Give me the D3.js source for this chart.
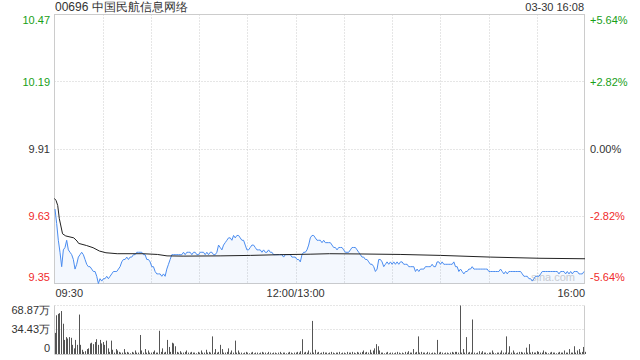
<!DOCTYPE html>
<html><head><meta charset="utf-8">
<script src="https://cdn.jsdelivr.net/npm/d3@7"></script>
<style>body{margin:0;background:#fff}svg{display:block;font-family:Arial,"Liberation Sans",sans-serif}</style>
</head><body><svg id="c" width="640" height="360"></svg>
<script>
const title = "00696 中国民航信息网络";
const stamp = "03-30 16:08";
const prevClose = 9.91;
const priceTicks = [10.47, 10.19, 9.91, 9.63, 9.35];
const pctTicks = ["+5.64%", "+2.82%", "0.00%", "-2.82%", "-5.64%"];
const timeTicks = ["09:30", "12:00/13:00", "16:00"];
const volTicks = [68.87, 34.43, 0];
const volTickLabels = ["68.87万", "34.43万", "0"];

// price line, sampled evenly from 09:30 to 16:00
const prices = [
9.66,9.60,9.53,9.48,9.42,9.49,9.50,9.53,9.49,9.48,
9.47,9.45,9.41,9.43,9.46,9.47,9.48,9.47,9.45,9.43,
9.42,9.42,9.41,9.40,9.40,9.38,9.35,9.37,9.36,9.37,
9.37,9.38,9.37,9.38,9.39,9.40,9.40,9.40,9.41,9.42,
9.44,9.45,9.45,9.46,9.45,9.46,9.46,9.47,9.47,9.48,
9.48,9.48,9.48,9.47,9.47,9.45,9.45,9.44,9.42,9.42,
9.40,9.39,9.39,9.39,9.38,9.39,9.38,9.41,9.43,9.45,
9.47,9.47,9.47,9.47,9.47,9.47,9.47,9.48,9.47,9.48,
9.48,
9.48,9.47,9.48,9.48,9.47,9.47,9.48,9.48,9.48,9.47,
9.48,9.47,9.48,9.48,9.47,9.47,9.48,9.51,9.50,9.49,
9.51,9.52,9.53,9.54,9.54,9.53,9.55,9.54,9.55,9.55,
9.54,9.53,9.53,9.51,9.49,9.49,9.50,9.51,9.51,9.50,
9.49,9.49,9.49,9.48,9.49,9.48,9.48,9.49,9.48,9.48,
9.47,9.47,9.47,9.47,9.47,9.47,9.46,9.47,9.47,9.47,
9.47,9.46,9.46,9.46,9.45,9.45,9.44,9.47,9.48,9.48,
9.49,9.51,9.54,9.55,9.55,9.54,9.53,9.53,9.53,9.52,
9.53,
9.52,9.52,9.52,9.52,9.51,9.50,9.50,9.49,9.50,9.50,
9.50,9.49,9.48,9.48,9.48,9.49,9.50,9.50,9.50,9.49,
9.48,9.47,9.46,9.46,9.45,9.45,9.44,9.43,9.43,9.42,
9.40,9.41,9.45,9.45,9.44,9.42,9.43,9.44,9.43,9.44,
9.43,9.44,9.43,9.44,9.43,9.44,9.44,9.43,9.43,9.43,
9.42,9.42,9.42,9.42,9.40,9.41,9.40,9.41,9.41,9.41,
9.42,9.42,9.42,9.42,9.43,9.42,9.42,9.44,9.44,9.43,
9.44,9.43,9.43,9.43,9.43,9.43,9.43,9.44,9.42,9.42,
9.40,
9.41,9.40,9.39,9.40,9.40,9.41,9.41,9.42,9.41,9.41,
9.41,9.41,9.41,9.41,9.41,9.41,9.41,9.40,9.40,9.40,
9.40,9.40,9.40,9.40,9.41,9.40,9.39,9.40,9.39,9.40,
9.40,9.40,9.40,9.40,9.40,9.40,9.40,9.39,9.38,9.38,
9.38,9.37,9.37,9.36,9.37,9.38,9.38,9.38,9.39,9.40,
9.40,9.40,9.40,9.40,9.40,9.40,9.40,9.40,9.40,9.39,
9.40,9.40,9.40,9.39,9.40,9.39,9.40,9.39,9.40,9.40,
9.40,9.39,9.39,9.39,9.40
];

// average price line
const avgTimes = ["09:30","09:31","09:32","09:33","09:35","09:37","09:42","09:44","09:45","09:50","09:54","09:58","10:02","10:09","10:25","10:34","10:40","10:50","11:13","11:32","11:50","13:09","13:21","13:40","14:05","14:30","15:01","15:32","16:00"];
const avgValues = [9.704,9.695,9.675,9.62,9.557,9.548,9.540,9.527,9.517,9.508,9.499,9.485,9.478,9.474,9.474,9.471,9.465,9.464,9.465,9.467,9.470,9.472,9.474,9.473,9.471,9.467,9.460,9.455,9.453];

// volume per minute (万股), 09:30 .. 16:00
const volumes = [
30,55,57,58,61,43,20,24,22,24,
23,13,8,20,13,56,13,6,3,4,
7,8,15,16,14,17,21,13,20,15,
17,13,19,8,3,19,6,2,7,5,
3,2,2,7,2,3,2,1,3,2,
5,2,2,27,5,2,7,2,5,2,
2,3,5,2,2,33,3,8,2,3,
20,10,3,16,15,11,3,2,4,2,
2,3,5,2,2,3,2,2,1,3,
2,5,2,2,6,2,3,2,25,2,
7,2,3,13,7,2,2,3,8,2,
5,2,19,2,5,2,2,1,2,3,
2,1,2,3,1,2,2,1,2,3,
2,2,1,3,2,1,2,2,1,2,
3,1,2,2,1,2,3,2,1,2,
2,3,2,4,21,2,3,2,5,2,
47,2,6,2,3,1,2,3,2,2,
1,2,3,2,1,2,2,3,1,2,
2,1,3,2,2,3,2,1,3,2,
2,3,5,2,3,2,6,2,5,8,
14,11,5,2,2,1,2,3,1,2,
2,1,2,3,2,1,2,1,3,2,
4,2,2,7,2,3,25,2,3,2,
2,1,3,2,1,2,2,1,20,2,
3,2,1,2,2,1,2,3,2,3,
3,2,68.87,2,7,2,24,2,3,2,
49,2,1,2,4,2,4,2,2,1,
2,2,5,2,1,2,2,2,5,2,
2,25,2,11,2,5,2,1,2,3,
3,2,2,9,2,14,2,3,2,2,
4,3,2,2,5,3,2,1,2,3,
2,2,1,2,3,2,2,5,2,2,
7,2,2,11,2,5,7,2,3,10,
3
];

const L = 54.5, R = 585, T = 14.5, B = 283.5, VT = 305.5, VB = 354;
const green = "#18a018", red = "#f02c2c", grid = "#cccccc", txt = "#333";
const svg = d3.select("#c");

function toMin(t) {
  const [h, m] = t.split(":").map(Number);
  const v = h * 60 + m;
  return v <= 720 ? v - 570 : v - 780 + 150;
}
const x = d3.scaleLinear().domain([0, 330]).range([L, R]);
const xi = d3.scaleLinear().domain([0, prices.length - 1]).range([L + 0.5, R - 1]);
const y = d3.scaleLinear().domain([9.35, 10.47]).range([B, T]);
const vy = d3.scaleLinear().domain([0, 68.87]).range([VB, VT]);

// vertical grid
const gMin = d3.range(30, 330, 30);
svg.append("g").selectAll("line").data(gMin).join("line")
  .attr("x1", d => Math.round(x(d)) + 0.5).attr("x2", d => Math.round(x(d)) + 0.5)
  .attr("y1", T).attr("y2", B)
  .attr("stroke", grid).attr("stroke-dasharray", "1,2");
// horizontal grid
svg.append("g").selectAll("line").data(priceTicks.slice(1, 4)).join("line")
  .attr("x1", L).attr("x2", R)
  .attr("y1", d => Math.floor(y(d)) + 0.5).attr("y2", d => Math.floor(y(d)) + 0.5)
  .attr("stroke", grid).attr("stroke-dasharray", "1,2");
// border
svg.append("rect").attr("x", L).attr("y", T).attr("width", R - 0.5 - L).attr("height", B - T)
  .attr("fill", "none").attr("stroke", grid);

// watermark
svg.append("text").attr("x", 531).attr("y", 281).attr("font-size", 11).attr("fill", "#cfcfcf").text("sina.com");

// area + price line
svg.append("path").datum(prices)
  .attr("d", d3.area().x((d, i) => xi(i)).y0(B).y1(d => y(d)))
  .attr("fill", "rgba(74,140,240,0.06)");
svg.append("path").datum(prices)
  .attr("d", d3.line().x((d, i) => xi(i)).y(d => y(d)))
  .attr("fill", "none").attr("stroke", "#4a8cf0").attr("stroke-width", 1);
// average line
svg.append("path").datum(avgTimes.map((t, i) => [toMin(t), avgValues[i]]))
  .attr("d", d3.line().x(d => x(d[0])).y(d => y(d[1])))
  .attr("fill", "none").attr("stroke", "#222").attr("stroke-width", 1);

// left price labels
const lblY = (d, i) => i === 0 ? 24 : i === priceTicks.length - 1 ? 281 : y(d) + 4;
const col = d => d > prevClose ? green : d < prevClose ? red : txt;
svg.append("g").selectAll("text").data(priceTicks).join("text")
  .attr("x", 50).attr("y", lblY).attr("text-anchor", "end")
  .attr("font-size", 11).attr("fill", col).text(d => d.toFixed(2));
svg.append("g").selectAll("text").data(priceTicks).join("text")
  .attr("x", 590).attr("y", lblY)
  .attr("font-size", 11).attr("fill", col).text((d, i) => pctTicks[i]);

// time labels
const tPos = [0, 150, 330];
svg.append("g").selectAll("text").data(timeTicks).join("text")
  .attr("x", (d, i) => i === 0 ? L + 1 : i === 2 ? R : x(tPos[i]))
  .attr("y", 297).attr("text-anchor", (d, i) => ["start", "middle", "end"][i])
  .attr("font-size", 11).attr("fill", txt).text(d => d);

// title
svg.append("text").attr("x", 55).attr("y", 11).attr("font-size", 12).attr("fill", txt).text(title);
svg.append("text").attr("x", 584).attr("y", 11).attr("font-size", 11).attr("fill", txt).attr("text-anchor", "end").text(stamp);

// volume panel
svg.append("g").selectAll("line").data(volTicks.slice(0, 2)).join("line")
  .attr("x1", L).attr("x2", R).attr("y1", d => Math.floor(vy(d)) + 0.5).attr("y2", d => Math.floor(vy(d)) + 0.5)
  .attr("stroke", grid).attr("stroke-dasharray", "1,2");
svg.append("line").attr("x1", L).attr("x2", L).attr("y1", VT).attr("y2", VB).attr("stroke", grid);
svg.append("line").attr("x1", R - 0.5).attr("x2", R - 0.5).attr("y1", VT).attr("y2", VB).attr("stroke", grid);
svg.append("line").attr("x1", L).attr("x2", R).attr("y1", VB + 0.5).attr("y2", VB + 0.5).attr("stroke", grid);
svg.append("g").selectAll("rect").data(volumes).join("rect")
  .attr("x", (d, i) => Math.round(x(i)))
  .attr("width", 1)
  .attr("y", d => vy(d)).attr("height", d => VB - vy(d))
  .attr("fill", "#555");
svg.append("g").selectAll("text").data(volTicks).join("text")
  .attr("x", 50).attr("y", (d, i) => [314, 333, 352][i]).attr("text-anchor", "end")
  .attr("font-size", 11).attr("fill", txt).text((d, i) => volTickLabels[i]);
</script></body></html>
